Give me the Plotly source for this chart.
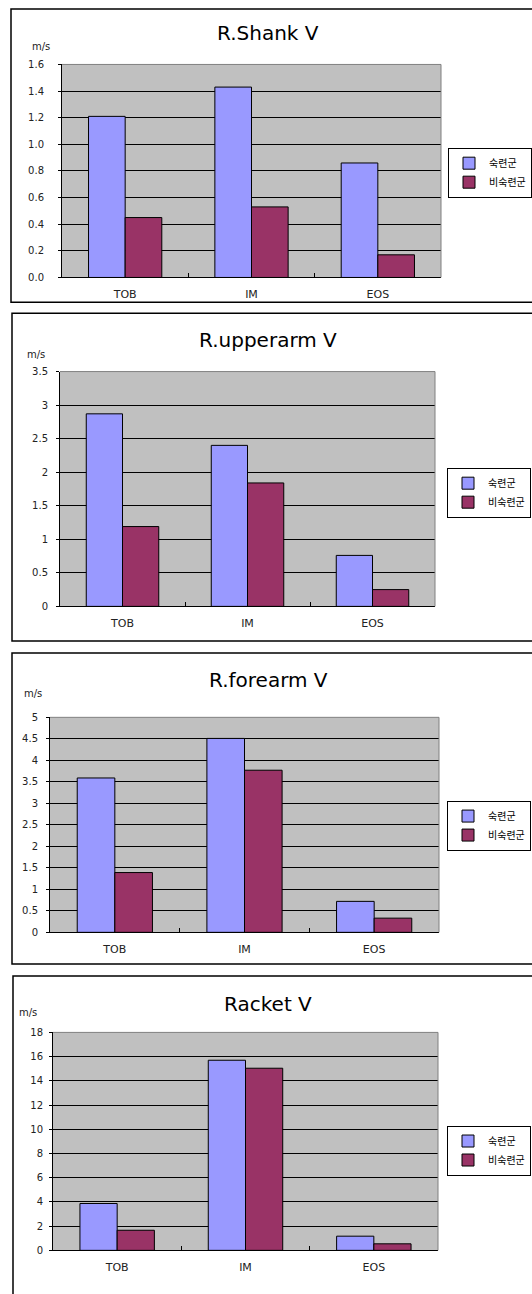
import plotly.graph_objects as go

# ---------------- data ----------------
categories = ["TOB", "IM", "EOS"]
series_names = ["숙련군", "비숙련군"]
titles = ["R.Shank V", "R.upperarm V", "R.forearm V", "Racket V"]

shank_skilled = [1.21, 1.43, 0.86]
shank_unskilled = [0.45, 0.53, 0.17]
upperarm_skilled = [2.87, 2.40, 0.76]
upperarm_unskilled = [1.19, 1.84, 0.25]
forearm_skilled = [3.59, 4.51, 0.72]
forearm_unskilled = [1.39, 3.77, 0.33]
racket_skilled = [3.87, 15.7, 1.17]
racket_unskilled = [1.66, 15.04, 0.54]

y_max = [1.6, 3.5, 5, 18]
y_step = [0.2, 0.5, 0.5, 2]
y_format = [".1f", "", "", ""]
unit_label = "m/s"

# ---------------- layout (pixels) ----------------
W, H = 532, 1294
plots = [(62, 441, 59, 274), (60, 435, 369, 606), (50, 439, 718, 935), (53, 438, 1036, 1256)]
boxes = [(11, 640, 3, 299), (12, 640, 310, 641), (12, 640, 653, 967), (13, 640, 979, 1400)]
legend_pos = [(448, 143), (447, 466), (447, 802), (447, 1130)]
title_pos = [(268, 27), (268, 337), (268, 680), (268, 1007)]
unit_pos = [(41, 41), (36, 352), (33, 694), (28, 1016)]
y_standoff = [12, 6, 6, 4]

SKILLED = "#9999FF"
UNSKILLED = "#993366"
FONT = "DejaVu Sans, Liberation Sans, sans-serif"
KFONT = "Noto Sans CJK KR, sans-serif"

def px(x):
    return x / W

def py(y):
    return 1 - y / H

data = [
    (shank_skilled, shank_unskilled),
    (upperarm_skilled, upperarm_unskilled),
    (forearm_skilled, forearm_unskilled),
    (racket_skilled, racket_unskilled),
]

fig = go.Figure()
shapes = []
annotations = []
layout = {}

for i, (sk, un) in enumerate(data):
    n = i + 1
    xa = "x" if n == 1 else f"x{n}"
    ya = "y" if n == 1 else f"y{n}"
    lg = "legend" if n == 1 else f"legend{n}"
    for name, vals, col in ((series_names[0], sk, SKILLED), (series_names[1], un, UNSKILLED)):
        fig.add_trace(go.Bar(
            x=categories, y=vals, name=name, xaxis=xa, yaxis=ya, legend=lg,
            marker=dict(color=col, line=dict(color="#000000", width=1)),
        ))
    x0, x1, y0, y1 = plots[i]
    xkey = "xaxis" if n == 1 else f"xaxis{n}"
    ykey = "yaxis" if n == 1 else f"yaxis{n}"
    layout[xkey] = dict(
        domain=[px(x0), px(x1)], anchor=ya, type="category",
        showline=True, linecolor="#000000", linewidth=1,
        ticks="inside", tickson="boundaries", ticklen=4, tickcolor="#000000",
        showgrid=False, tickfont=dict(family=FONT, size=11, color="#222222"),
        ticklabelstandoff=6,
        fixedrange=True,
    )
    yfmt = dict(tickformat=y_format[i]) if y_format[i] else {}
    layout[ykey] = dict(
        domain=[py(y1), py(y0)], anchor=xa, range=[0, y_max[i]],
        dtick=y_step[i], tick0=0,
        showline=True, linecolor="#000000", linewidth=1,
        ticks="outside", ticklen=3, tickcolor="#000000",
        showgrid=True, gridcolor="#000000", gridwidth=1,
        zeroline=False, ticklabelstandoff=y_standoff[i],
        tickfont=dict(family=FONT, size=10, color="#222222"),
        fixedrange=True, **yfmt,
    )
    lx, ly = legend_pos[i]
    layout[lg] = dict(
        x=px(lx), y=py(ly), xanchor="left", yanchor="top",
        xref="paper", yref="paper",
        bgcolor="#FFFFFF", bordercolor="#000000", borderwidth=1,
        font=dict(family=KFONT, size=10, color="#000000"),
        tracegroupgap=0, itemwidth=30,
    )
    # panel box
    bx0, bx1, by0, by1 = boxes[i]
    shapes.append(dict(type="rect", xref="paper", yref="paper",
                       x0=px(bx0), x1=px(bx1), y0=py(by1), y1=py(by0),
                       line=dict(color="#000000", width=1.5), layer="below"))
    # grey top and right border of plot area
    shapes.append(dict(type="line", xref="paper", yref="paper",
                       x0=px(x0), x1=px(x1), y0=py(y0), y1=py(y0),
                       line=dict(color="#808080", width=1), layer="above"))
    shapes.append(dict(type="line", xref="paper", yref="paper",
                       x0=px(x1), x1=px(x1), y0=py(y0), y1=py(y1),
                       line=dict(color="#808080", width=1), layer="above"))
    tx, ty = title_pos[i]
    annotations.append(dict(text=titles[i], x=px(tx), y=py(ty), xref="paper", yref="paper",
                            xanchor="center", yanchor="middle", showarrow=False,
                            font=dict(family=FONT, size=20, color="#000000")))
    ux, uy = unit_pos[i]
    annotations.append(dict(text=unit_label, x=px(ux), y=py(uy), xref="paper", yref="paper",
                            xanchor="center", yanchor="middle", showarrow=False,
                            font=dict(family=FONT, size=10, color="#222222")))

fig.update_layout(
    width=W, height=H,
    margin=dict(l=0, r=0, t=0, b=0),
    paper_bgcolor="#FFFFFF", plot_bgcolor="#C0C0C0",
    barmode="group", bargap=0.42, bargroupgap=0,
    shapes=shapes, annotations=annotations,
    **layout,
)

fig.write_html(
    "out.html",
    config={"displayModeBar": False},
    post_script="document.body.style.margin='0';document.documentElement.style.overflow='hidden';document.body.style.overflow='hidden';",
)
